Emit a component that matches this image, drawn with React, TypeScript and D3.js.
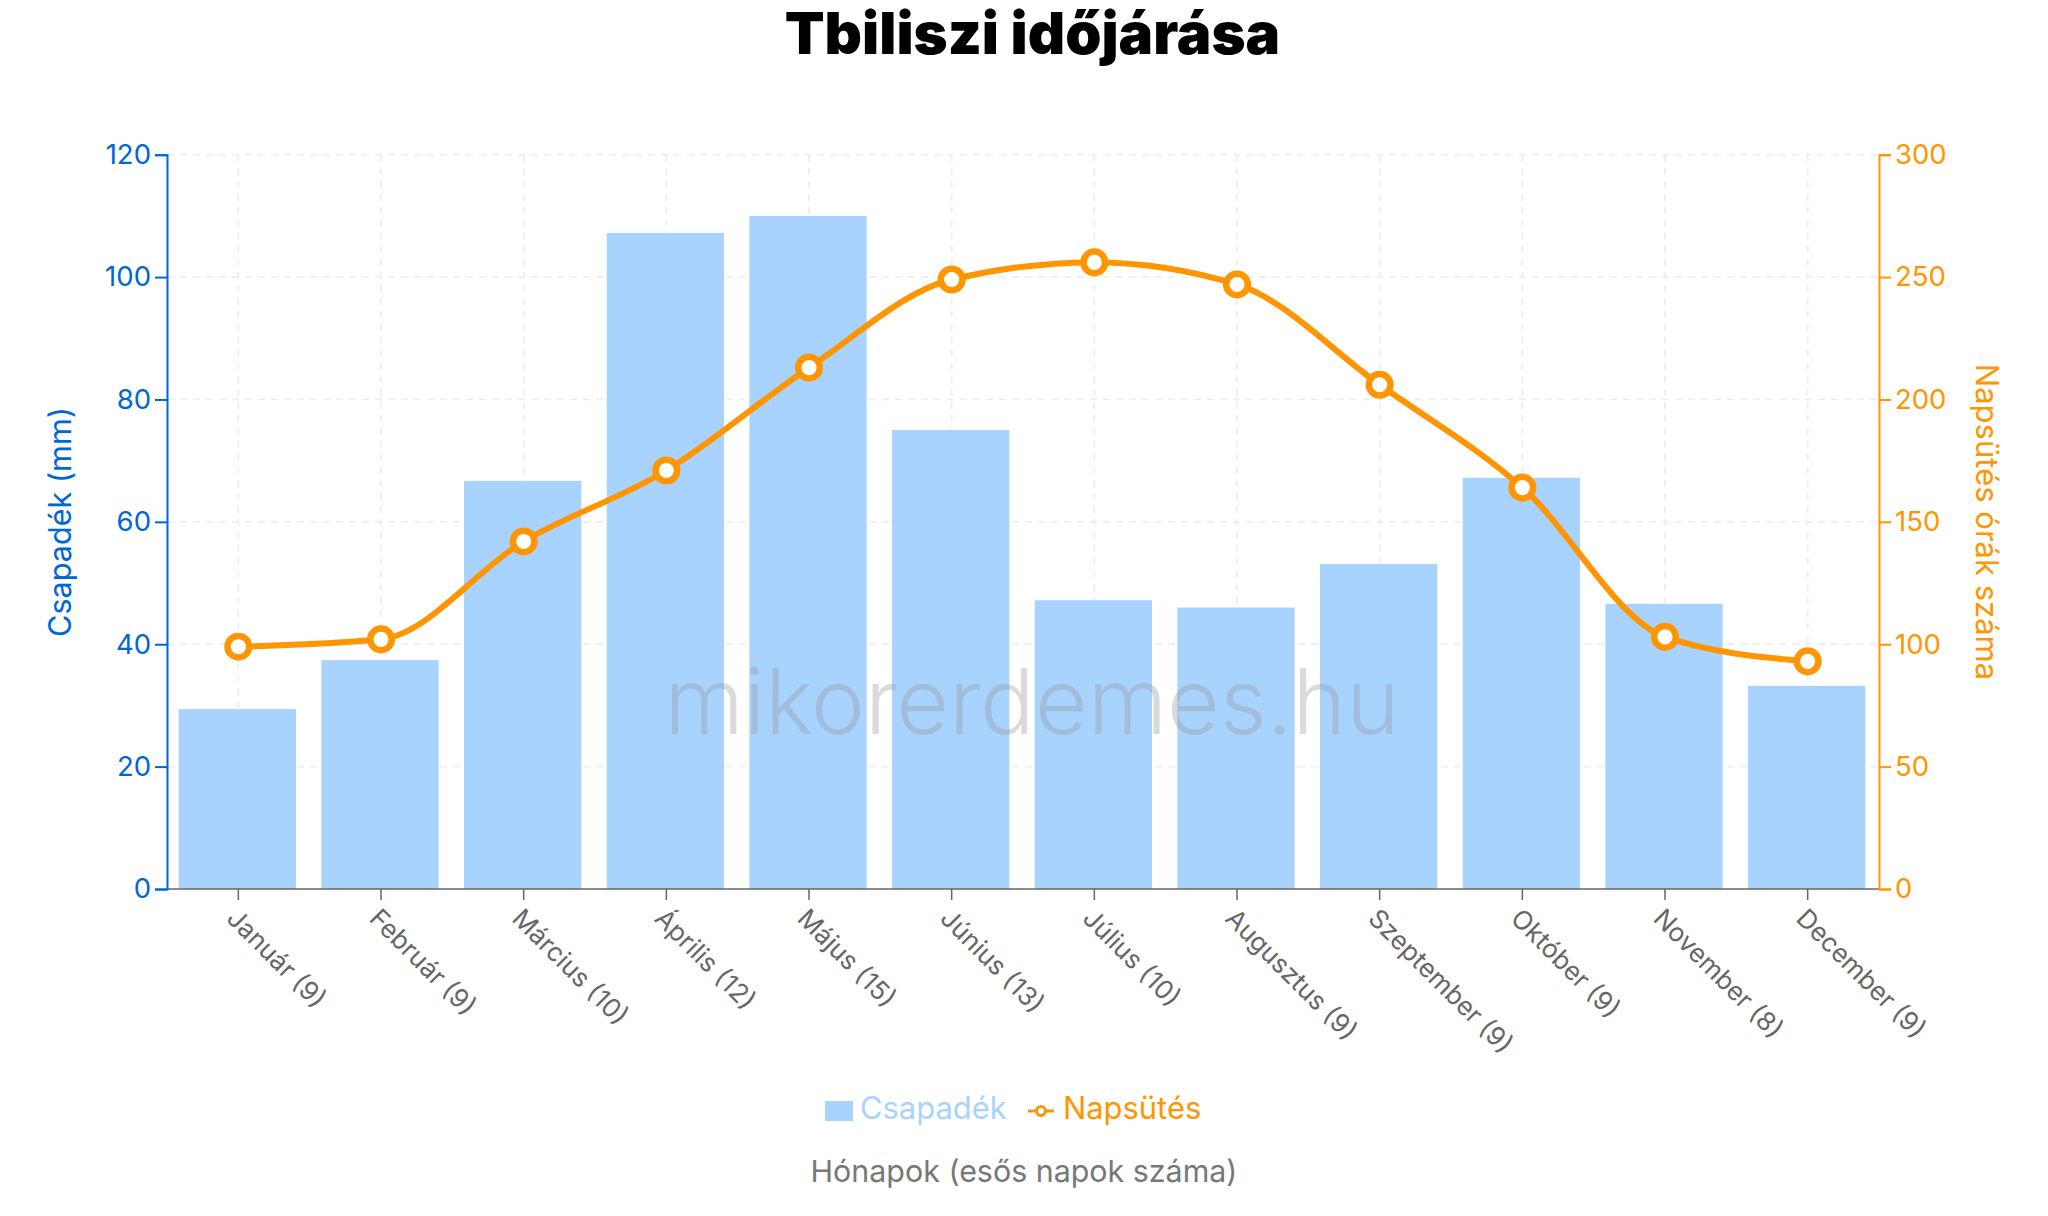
import { useEffect, useRef } from "react";
import * as d3 from "d3";

const months = ["Január (9)", "Február (9)", "Március (10)", "Április (12)", "Május (15)", "Június (13)", "Július (10)", "Augusztus (9)", "Szeptember (9)", "Október (9)", "November (8)", "December (9)"];
const rainfall = [29.4, 37.4, 66.7, 107.2, 110, 75, 47.2, 46, 53.1, 67.2, 46.6, 33.2];
const sunshine = [99, 102, 142, 171, 213, 249, 256, 247, 206, 164, 103, 93];
const rainTicks = [0, 20, 40, 60, 80, 100, 120];
const sunTicks = [0, 50, 100, 150, 200, 250, 300];

const WIDTH = 2048;
const HEIGHT = 1216;
const FONT = "Inter, 'Noto Sans', sans-serif";
const BLUE = "#0066d6";
const LIGHT_BLUE = "#a8d3ff";
const ORANGE = "#ff9500";
const GRAY = "#666666";

export default function App() {
  const svgRef = useRef<SVGSVGElement>(null);

  useEffect(() => {
    if (!svgRef.current) return;
    const svg = d3.select(svgRef.current);
    svg.selectAll("*").remove();
    svg.style("font-family", FONT);

    const left = 167;
    const right = 1879;
    const top = 154.7;
    const bottom = 889;

    const x = d3.scaleBand<string>().domain(months).range([left - 1, right - 1]).paddingInner(0.178).paddingOuter(0.089);
    const yRain = d3.scaleLinear().domain([0, 120]).range([bottom, top]);
    const ySun = d3.scaleLinear().domain([0, 300]).range([bottom, top]);
    const cx = (i: number) => left + ((right - left) / 12) * (i + 0.5);

    // grid
    const grid = svg.append("g").attr("stroke", "#eeeeee").attr("stroke-width", 1.8).attr("stroke-dasharray", "7,6");
    grid.selectAll(".h").data(rainTicks.slice(1)).enter().append("line").attr("x1", left).attr("x2", right).attr("y1", (d) => yRain(d)).attr("y2", (d) => yRain(d));
    grid.selectAll(".v").data(months).enter().append("line").attr("x1", (_d, i) => cx(i)).attr("x2", (_d, i) => cx(i)).attr("y1", top).attr("y2", bottom);

    // bars
    svg.append("g").selectAll("rect").data(rainfall).enter().append("rect")
      .attr("x", (_d, i) => x(months[i]) as number)
      .attr("width", x.bandwidth())
      .attr("y", (d) => yRain(d))
      .attr("height", (d) => bottom - yRain(d))
      .attr("fill", LIGHT_BLUE);

    // x axis
    const xAxis = svg.append("g").attr("transform", `translate(0,${bottom})`);
    xAxis.append("line").attr("x1", left).attr("x2", right).attr("stroke", GRAY).attr("stroke-width", 1.5);
    months.forEach((m, i) => {
      xAxis.append("line").attr("x1", cx(i)).attr("x2", cx(i)).attr("y1", 0).attr("y2", 11).attr("stroke", GRAY).attr("stroke-width", 1.5);
      xAxis.append("text")
        .attr("transform", `translate(${cx(i) - 8},${26}) rotate(45)`)
        .attr("font-size", 26)
        .attr("dominant-baseline", "middle")
        .attr("fill", GRAY)
        .text(m);
    });

    // left axis
    const la = svg.append("g").attr("transform", `translate(${left},0)`).call(d3.axisLeft(yRain).tickValues(rainTicks).tickSize(12).tickSizeOuter(12).tickPadding(4));
    la.selectAll("path,line").attr("stroke", BLUE).attr("stroke-width", 2);
    la.selectAll("text").attr("fill", BLUE).attr("font-size", 27.5).attr("font-family", FONT);

    // right axis
    const ra = svg.append("g").attr("transform", `translate(${right},0)`).call(d3.axisRight(ySun).tickValues(sunTicks).tickSize(12).tickSizeOuter(12).tickPadding(4));
    ra.selectAll("path,line").attr("stroke", ORANGE).attr("stroke-width", 2);
    ra.selectAll("text").attr("fill", ORANGE).attr("font-size", 27.5).attr("font-family", FONT);

    // axis titles
    svg.append("text").attr("transform", `translate(63,522) rotate(-90)`).attr("text-anchor", "middle").attr("dominant-baseline", "middle").attr("font-size", 30.6).attr("fill", BLUE).text("Csapadék (mm)");
    svg.append("text").attr("transform", `translate(1984,522) rotate(90)`).attr("text-anchor", "middle").attr("dominant-baseline", "middle").attr("font-size", 31).attr("fill", ORANGE).text("Napsütés órák száma");

    // sunshine line
    const line = d3.line<number>().x((_d, i) => cx(i)).y((d) => ySun(d)).curve(d3.curveMonotoneX);
    svg.append("path").datum(sunshine).attr("d", line).attr("fill", "none").attr("stroke", ORANGE).attr("stroke-width", 6);
    svg.append("g").selectAll("circle").data(sunshine).enter().append("circle")
      .attr("cx", (_d, i) => cx(i)).attr("cy", (d) => ySun(d)).attr("r", 10.8)
      .attr("fill", "#fff").attr("stroke", ORANGE).attr("stroke-width", 6.5);

    // watermark
    svg.append("text").attr("x", 1032).attr("y", 709).attr("text-anchor", "middle").attr("dominant-baseline", "middle")
      .attr("font-size", 91).attr("font-weight", 300).attr("fill", "rgba(150,150,150,0.35)").text("mikorerdemes.hu");

    // title
    svg.append("text").attr("x", 1032.5).attr("y", 54).attr("text-anchor", "middle")
      .attr("font-size", 58).attr("font-weight", 900).attr("fill", "#000").text("Tbiliszi időjárása");

    // legend
    const lg = svg.append("g");
    lg.append("rect").attr("x", 825).attr("y", 1101).attr("width", 28).attr("height", 20).attr("fill", LIGHT_BLUE);
    lg.append("text").attr("x", 860).attr("y", 1119).attr("font-size", 30.9).attr("fill", LIGHT_BLUE).text("Csapadék");
    lg.append("line").attr("x1", 1028).attr("x2", 1054).attr("y1", 1111).attr("y2", 1111).attr("stroke", ORANGE).attr("stroke-width", 3);
    lg.append("circle").attr("cx", 1041).attr("cy", 1111).attr("r", 4.5).attr("fill", "#fff").attr("stroke", ORANGE).attr("stroke-width", 3);
    lg.append("text").attr("x", 1063).attr("y", 1119).attr("font-size", 30.9).attr("fill", ORANGE).text("Napsütés");

    // bottom label
    svg.append("text").attr("x", 1024).attr("y", 1182).attr("text-anchor", "middle").attr("font-size", 30.4).attr("fill", "#777777").text("Hónapok (esős napok száma)");
  }, []);

  return <svg ref={svgRef} width={WIDTH} height={HEIGHT} viewBox={`0 0 ${WIDTH} ${HEIGHT}`} style={{ position: "absolute", left: 0, top: 0, background: "#fff" }} />;
}
